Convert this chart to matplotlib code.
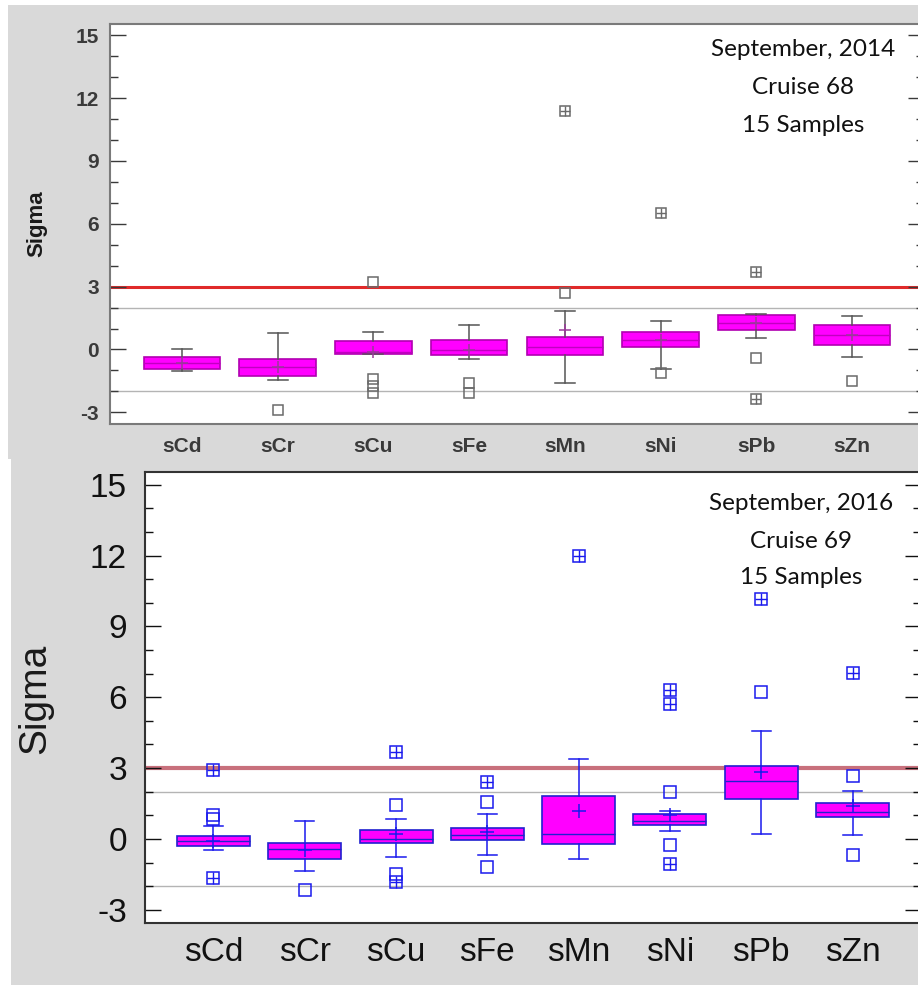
import matplotlib
matplotlib.use("Agg")
import matplotlib.pyplot as plt
from matplotlib.patches import Rectangle
from matplotlib.ticker import MultipleLocator

plt.rcParams["axes.unicode_minus"] = False

# ---------------------------------------------------------------- data
elements = ["sCd", "sCr", "sCu", "sFe", "sMn", "sNi", "sPb", "sZn"]
yticks = [-3, 0, 3, 6, 9, 12, 15]

# Cruise 68 (September 2014)
c68_q1 = [-0.91, -1.28, -0.22, -0.27, -0.27, 0.10, 0.92, 0.20]
c68_med = [-0.67, -0.83, -0.11, -0.03, 0.12, 0.44, 1.24, 0.68]
c68_q3 = [-0.38, -0.46, 0.41, 0.44, 0.60, 0.81, 1.64, 1.16]
c68_wlo = [-1.04, -1.47, -0.22, -0.46, -1.62, -0.95, 0.53, -0.38]
c68_whi = [0.00, 0.79, 0.83, 1.16, 1.83, 1.34, 1.68, 1.60]
c68_mean = [-0.67, -0.85, -0.10, -0.02, 0.95, 0.45, 1.25, 0.68]
c68_out = [[], [-2.87], [3.23, -1.42, -1.75, -2.09], [-1.59, -2.06],
           [2.68], [-1.12], [-0.43], [-1.50]]
c68_far = [[], [], [], [], [11.4], [6.5], [3.71, -2.37], []]

# Cruise 69 (September 2016)
c69_q1 = [-0.28, -0.87, -0.18, -0.06, -0.20, 0.61, 1.69, 0.93]
c69_med = [-0.08, -0.43, 0.01, 0.15, 0.21, 0.75, 2.44, 1.14]
c69_q3 = [0.13, -0.19, 0.36, 0.45, 1.81, 1.06, 3.08, 1.53]
c69_wlo = [-0.47, -1.36, -0.78, -0.69, -0.83, 0.32, 0.22, 0.15]
c69_whi = [0.56, 0.75, 0.86, 1.05, 3.39, 1.17, 4.59, 2.05]
c69_mean = [-0.08, -0.47, 0.19, 0.30, 1.17, 1.03, 2.84, 1.38]
c69_out = [[1.00, 0.83], [-2.16], [1.44, -1.50], [1.56, -1.17],
           [], [1.99, -0.27], [6.21], [2.65, -0.67]]
c69_far = [[2.90, -1.66], [], [3.67, -1.84], [2.40],
           [11.97], [6.30, 5.72, -1.06], [10.17], [7.03]]

titles_68 = ["September, 2014", "Cruise 68", "15 Samples"]
titles_69 = ["September, 2016", "Cruise 69", "15 Samples"]

# ---------------------------------------------------------------- figure
W, H = 918, 985
fig = plt.figure(figsize=(W / 100, H / 100), dpi=100, facecolor="white")


def px_rect(x0, y0, x1, y1):
    """Figure-fraction rectangle from pixel corners (origin top-left)."""
    return [x0 / W, 1 - y1 / H, (x1 - x0) / W, (y1 - y0) / H]


panel_grey = "#d9d9d9"
for (x0, y0, x1, y1) in [(8, 5, 918, 459), (11, 459, 918, 985)]:
    fig.patches.append(Rectangle((x0 / W, 1 - y1 / H), (x1 - x0) / W,
                                 (y1 - y0) / H, transform=fig.transFigure,
                                 facecolor=panel_grey, edgecolor="none",
                                 zorder=-10))


def stats_for(q1, med, q3, wlo, whi, mean):
    out = []
    for i in range(len(q1)):
        out.append(dict(q1=q1[i], med=med[i], q3=q3[i], whislo=wlo[i],
                        whishi=whi[i], mean=mean[i], fliers=[]))
    return out


def draw_panel(ax, stats, near, far, line_col, box_edge, med_col,
               mean_col, out_col, ms, red_col, red_lw, spine_col,
               tick_col, tick_fs, tick_weight, lab_fs, lab_weight,
               ylab_fs, ylab_weight, ylab_xy, ytick_pad, xtick_pad):
    pos = list(range(1, len(elements) + 1))
    ax.bxp(stats, positions=pos, widths=0.8, capwidths=0.21,
           showmeans=True, showfliers=False, patch_artist=True,
           boxprops=dict(facecolor="#ff00ff", edgecolor=box_edge, lw=1.2),
           whiskerprops=dict(color=line_col, lw=1.1),
           capprops=dict(color=line_col, lw=1.1),
           medianprops=dict(color=med_col, lw=1.0),
           meanprops=dict(marker="+", markeredgecolor=mean_col,
                          markersize=ms * 1.2, markeredgewidth=1.1))
    for i, p in enumerate(pos):
        if near[i]:
            ax.plot([p] * len(near[i]), near[i], ls="none", marker="s",
                    ms=ms, mfc="none", mec=out_col, mew=1.1, zorder=4)
        if far[i]:
            ax.plot([p] * len(far[i]), far[i], ls="none", marker="s",
                    ms=ms, mfc="none", mec=out_col, mew=1.1, zorder=4)
            ax.plot([p] * len(far[i]), far[i], ls="none", marker="+",
                    ms=ms, mec=out_col, mew=1.0, zorder=4)

    ax.axhline(3, color=red_col, lw=red_lw, zorder=1)
    for v in (2, -2):
        ax.axhline(v, color="#b4b4b4", lw=1.0, zorder=1)

    ax.set_xlim(0.25, 8.75)
    ax.set_ylim(-3.56, 15.54)
    ax.set_xticks(pos)
    ax.set_xticklabels(elements)
    ax.set_yticks(yticks)
    ax.yaxis.set_minor_locator(MultipleLocator(1))
    ax.tick_params(axis="y", which="both", direction="in", left=True,
                   right=True, colors=tick_col, labelcolor=tick_col,
                   pad=ytick_pad)
    ax.tick_params(axis="y", which="major", length=11.5, width=1.0)
    ax.tick_params(axis="y", which="minor", length=5.8, width=1.0)
    ax.tick_params(axis="x", length=0, pad=xtick_pad, labelcolor=tick_col)
    for lab in ax.get_yticklabels():
        lab.set_fontsize(tick_fs)
        lab.set_fontweight(tick_weight)
        lab.set_fontfamily("Liberation Sans")
    for lab in ax.get_xticklabels():
        lab.set_fontsize(lab_fs)
        lab.set_fontweight(lab_weight)
        lab.set_fontfamily("Liberation Sans")
    for s in ax.spines.values():
        s.set_color(spine_col)
        s.set_linewidth(1.5)
    ax.set_ylabel("Sigma", fontsize=ylab_fs, fontweight=ylab_weight,
                  family="Liberation Sans", color="#1a1a1a")
    ax.yaxis.set_label_coords(*ylab_xy)


# top panel: Cruise 68
ax1 = fig.add_axes(px_rect(110, 24, 924, 424))
draw_panel(ax1, stats_for(c68_q1, c68_med, c68_q3, c68_wlo, c68_whi,
                          c68_mean),
           c68_out, c68_far, line_col="#555555", box_edge="#b000b0",
           med_col="#c000c0", mean_col="#9a3a9a", out_col="#6a6a6a",
           ms=7.5, red_col="#e02a2a", red_lw=2.2, spine_col="#7a7a7a",
           tick_col="#3a3a3a", tick_fs=15, tick_weight="bold", lab_fs=15,
           lab_weight="bold", ylab_fs=16, ylab_weight="bold",
           ylab_xy=(-0.077, 0.5), ytick_pad=8, xtick_pad=9)

# bottom panel: Cruise 69
ax2 = fig.add_axes(px_rect(145, 472, 921, 923))
draw_panel(ax2, stats_for(c69_q1, c69_med, c69_q3, c69_wlo, c69_whi,
                          c69_mean),
           c69_out, c69_far, line_col="#1a1aee", box_edge="#2020d0",
           med_col="#2020d0", mean_col="#1a1aee", out_col="#1a1aee",
           ms=8.5, red_col="#c8707c", red_lw=3.0, spine_col="#333333",
           tick_col="#111111", tick_fs=24, tick_weight="normal", lab_fs=24,
           lab_weight="normal", ylab_fs=28, ylab_weight="normal",
           ylab_xy=(-0.1186, 0.497), ytick_pad=13, xtick_pad=10)

# annotation blocks
for lines, cx, ys in [(titles_68, 803, (50, 88, 126)),
                      (titles_69, 801, (504, 541, 578))]:
    for txt, yy in zip(lines, ys):
        fig.text(cx / W, 1 - yy / H, txt, ha="center", va="center",
                 fontsize=17.5, family="Lato", color="#111111")

fig.savefig("out.png", dpi=100, facecolor=fig.get_facecolor())
